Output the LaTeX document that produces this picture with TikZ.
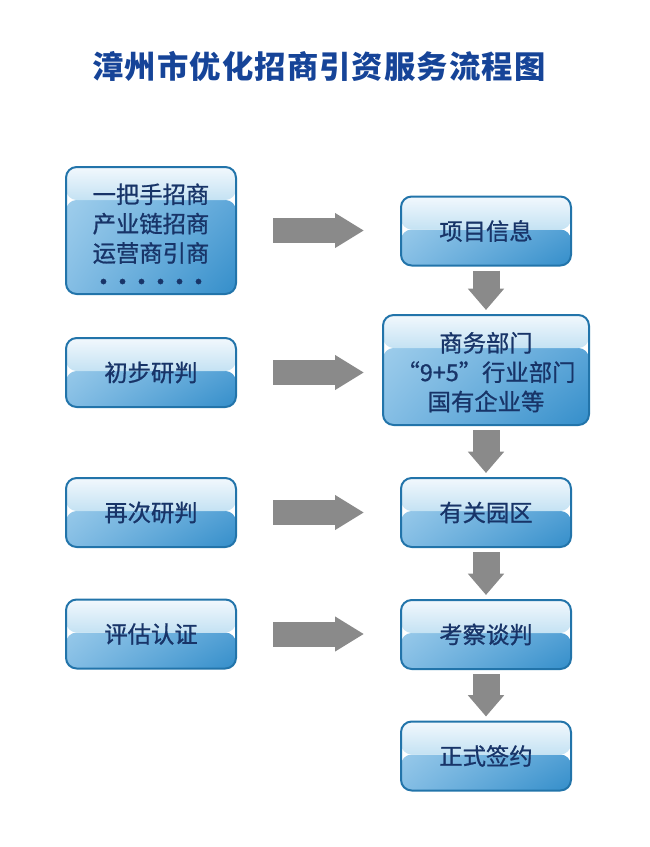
\documentclass[tikz,border=0pt]{standalone}
\usepackage{fontspec}
\newfontfamily\cjk{Noto Sans CJK SC}
\newfontfamily\cjkbox[FakeBold=0.9]{Noto Sans CJK SC}
\usetikzlibrary{arrows.meta,positioning,calc,shadings}
\definecolor{boxedge}{RGB}{34,116,170}
\definecolor{boxtext}{RGB}{24,52,104}
\definecolor{boxtop}{RGB}{242,248,253}
\definecolor{boxlight}{RGB}{196,226,243}
\definecolor{boxlow}{RGB}{168,211,238}
\definecolor{boxmid}{RGB}{108,175,222}
\definecolor{boxdeep}{RGB}{52,142,202}
\definecolor{arrowgray}{RGB}{138,138,138}
\definecolor{titleblue}{RGB}{22,68,152}

\begin{document}
\begin{tikzpicture}[x=0.75pt, y=-0.75pt,
        stepbox/.style={draw=boxedge, line width=1.5pt, rounded corners=8pt,
            minimum width=127.5pt, minimum height=51.75pt, inner sep=0pt, align=center,
            text=boxtext, font=\cjkbox\fontsize{17.5}{22}\selectfont,
            path picture={
                \shade[upper left=boxlow, upper right=boxmid, lower left=boxmid!60!boxlow, lower right=boxdeep]
                    (path picture bounding box.south west) rectangle ([yshift=-24.75pt]path picture bounding box.north east);
                \shade[top color=boxtop, bottom color=boxlight]
                    ([yshift=-24.75pt]path picture bounding box.north west) rectangle (path picture bounding box.north east);
            }},
        flowright/.style={draw=arrowgray, line width=18.75pt,
            -{Triangle[length=21.75pt, width=24.75pt]}, shorten <=27pt, shorten >=27pt},
        flowdown/.style={draw=arrowgray, line width=20.25pt,
            -{Triangle[length=16pt, width=26.25pt]}, shorten <=3pt, shorten >=3pt}
    ]
    \useasboundingbox (0,0) rectangle (650,847);

    % 标题
    \node[font=\cjk\bfseries\fontsize{23.5}{28}\selectfont\addfontfeature{LetterSpace=3.5}, text=titleblue]
        (title) at (319,66) {漳州市优化招商引资服务流程图};

    % 左列
    \node[stepbox, minimum height=95.25pt] (src) at (151,230.5)
        {\rule{0pt}{25pt}一把手招商\\产业链招商\\运营商引商\\\foreach \k in {1,...,6}{\makebox[14.25pt]{\fontsize{19}{22}\selectfont •}}};
    \node[stepbox] (prelim) at (151,372.5) {初步研判};
    \node[stepbox] (again) at (151,512.5) {再次研判};
    \node[stepbox] (assess) at (151,634) {评估认证};

    % 右列
    \node[stepbox] (info) at (486,231) {项目信息};
    \node[stepbox, minimum width=154.5pt, minimum height=82.5pt] (dept) at (486,370)
        {\rule{0pt}{18pt}商务部门\\“9+5”行业部门\\国有企业等};
    \node[stepbox] (park) at (486,512.5) {有关园区};
    \node[stepbox] (talk) at (486,634.5) {考察谈判};
    \node[stepbox] (sign) at (486,756) {正式签约};

    % 箭头
    \draw[flowright] (src.east) -- (src.east -| info.west);
    \draw[flowright] (prelim.east) -- (prelim.east -| info.west);
    \draw[flowright] (again.east) -- (again.east -| park.west);
    \draw[flowright] (assess.east) -- (assess.east -| talk.west);
    \draw[flowdown] (info) -- (dept);
    \draw[flowdown] (dept) -- (park);
    \draw[flowdown] (park) -- (talk);
    \draw[flowdown] (talk) -- (sign);
\end{tikzpicture}
\end{document}
